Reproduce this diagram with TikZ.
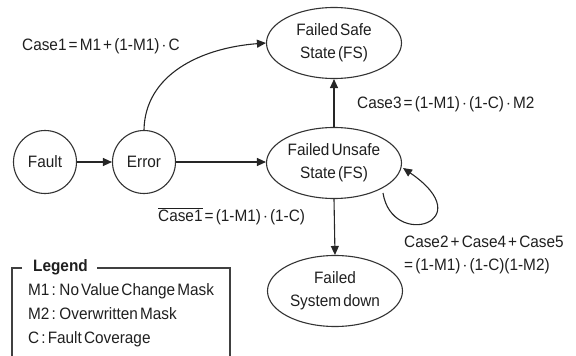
\documentclass[tikz,border=0pt]{standalone}
\usepackage{fontspec}
\setmainfont{Liberation Sans}[WordSpace=0.5,FakeStretch=0.93]
\usetikzlibrary{shapes.geometric,arrows.meta}
\begin{document}
\begin{tikzpicture}[x=1pt,y=-1pt,
  txt/.style={font=\fontsize{16.5}{23}\selectfont, text=black!88},
  statecirc/.style={circle, draw=black!80, line width=1.1pt, minimum size=63pt, inner sep=0pt, txt},
  stateell/.style={ellipse, draw=black!80, line width=1.1pt, minimum width=135pt, minimum height=71pt, inner sep=0pt, align=center, txt},
  flow/.style={draw=black!85, line width=1.1pt, -{Triangle[length=9pt,width=8pt]}},
  lbl/.style={txt, inner sep=0pt, anchor=base west, align=left},
  frame/.style={draw=black!75, line width=1.1pt}
]
\useasboundingbox (0,0) rectangle (576,356);
\clip (0,0) rectangle (576,356);

% states
\node[statecirc] (fault) at (45,162) {Fault};
\node[statecirc] (error) at (144,162) {Error};
\node[stateell] (safe) at (334,43) {Failed Safe\\State (FS)};
\node[stateell] (unsafe) at (334,163) {Failed Unsafe\\State (FS)};
\node[stateell] (down) at (335,291) {Failed\\System down};

% transitions
\draw[flow] (fault) -- (error);
\draw[flow] (error.east) -- (error.east -| unsafe.west);
\draw[flow] (error.north) .. controls (145,75) and (200,48) .. (safe.west);
\draw[flow] (unsafe.north) -- (safe.south);
\draw[flow] (unsafe.south) -- (down.north);
\coordinate (loopA) at (383,193);
\coordinate (loopB) at (403,168);
\draw[flow] (loopA) .. controls (392,250) and (482,222) .. (loopB);

% transition labels
\node[lbl] (c1) at (22,50) {Case1 = M1 + (1-M1) $\cdot$ C};
\node[lbl] (c3) at (357,108) {Case3 = (1-M1) $\cdot$ (1-C) $\cdot$ M2};
\node[lbl] (c1n) at (158,221) {$\overline{\mbox{Case1}}$ = (1-M1) $\cdot$ (1-C)};
\node[lbl] (c245) at (404,270) {Case2 + Case4 + Case5\\= (1-M1) $\cdot$ (1-C)(1-M2)};

% legend
\draw[frame] (22,268) -- (12,268) -- (12,360);
\draw[frame] (97,268) -- (230,268) -- (230,360);
\node[lbl, font=\fontsize{16.5}{23}\selectfont\bfseries] (leg) at (33,271) {Legend};
\node[lbl] (m1) at (28,295) {M1 : No Value Change Mask};
\node[lbl] (m2) at (28,319) {M2 : Overwritten Mask};
\node[lbl] (cc) at (28,343) {C : Fault Coverage};
\end{tikzpicture}
\end{document}
